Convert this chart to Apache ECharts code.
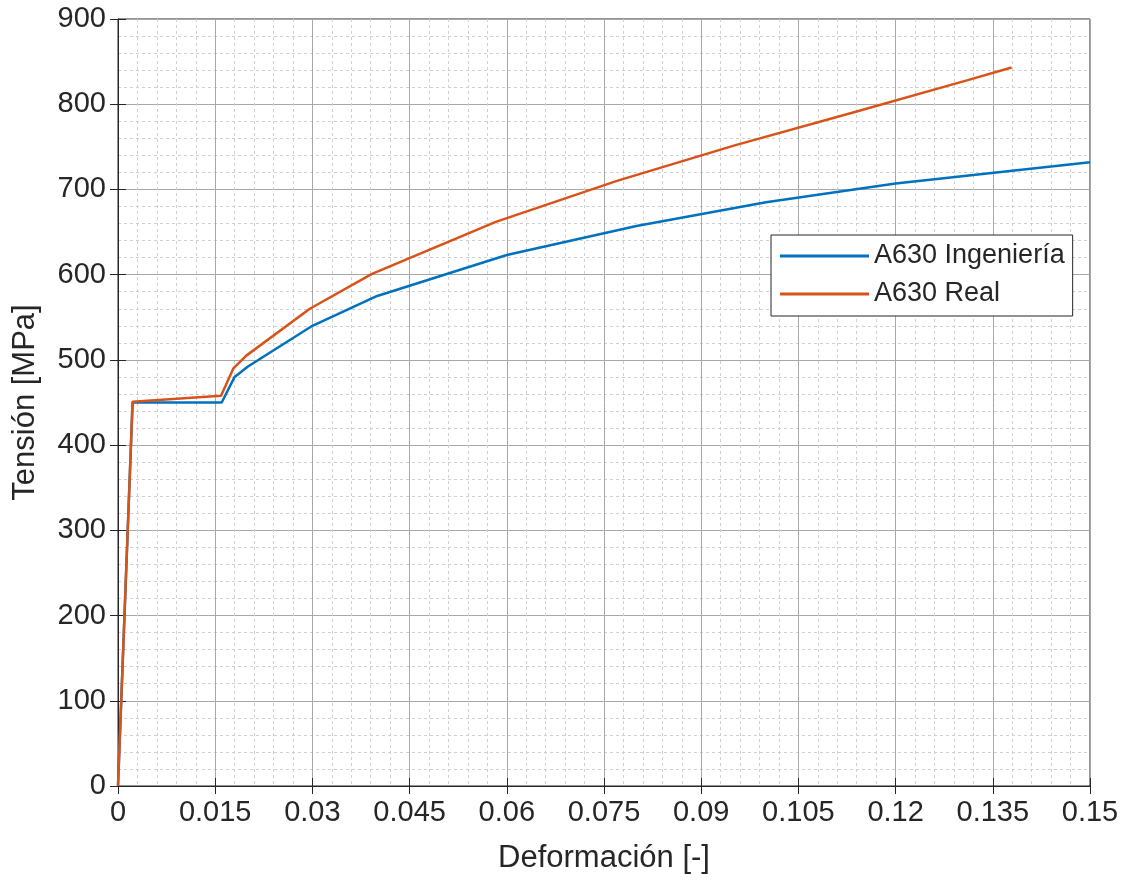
<!DOCTYPE html>
<html>
<head>
<meta charset="utf-8">
<script src="https://cdn.jsdelivr.net/npm/echarts@6/dist/echarts.min.js"></script>
<style>
  html, body { margin: 0; padding: 0; background: #fff; }
  #main { width: 1130px; height: 882px; }
</style>
</head>
<body>
<div id="main"></div>
<script>
// curva de ingeniería
const strainIng = [0, 0.00225, 0.016, 0.018, 0.020, 0.030, 0.040, 0.060, 0.080, 0.100, 0.120, 0.150];
const stressIng = [0, 450, 450, 480, 492, 540, 575, 623, 657, 685, 707, 732];
// curva real
const strainReal = [0, 0.00225, 0.0159, 0.0178, 0.0198, 0.0296, 0.0392, 0.0583, 0.0770, 0.0953, 0.1133, 0.1310, 0.1379];
const stressReal = [0, 451, 458, 490, 505, 560, 601, 662, 710, 752, 790, 828, 843];

const names = ["A630 Ingeniería", "A630 Real"];
const FONT = "'Liberation Sans', Arial, Helvetica, sans-serif";
const DARK = "#262626";

const zip = (xs, ys) => xs.map((x, i) => [x, ys[i]]);

let chart = echarts.init(document.getElementById("main"));

let axisCommon = {
  axisLine: { show: true, onZero: false, lineStyle: { color: DARK, width: 1 } },
  axisTick: { show: true, inside: true, length: 8, lineStyle: { color: DARK } },
  minorTick: { show: true, splitNumber: 5, length: 0 },
  splitLine: { show: true, lineStyle: { color: "#a8a8a8", width: 1 } },
  minorSplitLine: { show: true, lineStyle: { color: "#d0d0d0", width: 1, type: [3, 3] } },
};

let option = {
  animation: false,
  backgroundColor: "#fff",
  grid: { left: 118, right: 40, top: 19, bottom: 96, show: true, borderColor: DARK, borderWidth: 1 },
  legend: {
    orient: "vertical",
    left: 771,
    top: 235,
    data: names,
    icon: "rect",
    itemWidth: 89,
    itemHeight: 3,
    itemGap: 8,
    padding: [6, 8, 7, 9],
    backgroundColor: "#fff",
    borderColor: DARK,
    borderWidth: 1,
    borderRadius: 0,
    textStyle: { fontFamily: FONT, fontSize: 27, color: DARK, lineHeight: 30 },
  },
  xAxis: [
    Object.assign({}, axisCommon, {
      type: "value",
      min: 0,
      max: 0.15,
      interval: 0.015,
      position: "bottom",
      name: "Deformación [-]",
      nameLocation: "middle",
      nameGap: 57,
      nameTextStyle: { fontFamily: FONT, fontSize: 31, color: DARK },
      axisLabel: { fontFamily: FONT, fontSize: 29, color: DARK, margin: 12 },
    }),
    {
      type: "value", min: 0, max: 0.15, interval: 0.015, position: "top",
      axisLine: { show: true, lineStyle: { color: DARK } },
      axisTick: { show: true, inside: true, length: 8, lineStyle: { color: DARK } },
      axisLabel: { show: false }, splitLine: { show: false },
    },
  ],
  yAxis: [
    Object.assign({}, axisCommon, {
      type: "value",
      min: 0,
      max: 900,
      interval: 100,
      position: "left",
      name: "Tensión [MPa]",
      nameLocation: "middle",
      nameGap: 77,
      nameTextStyle: { fontFamily: FONT, fontSize: 31, color: DARK },
      axisLabel: { fontFamily: FONT, fontSize: 29, color: DARK, margin: 12 },
    }),
    {
      type: "value", min: 0, max: 900, interval: 100, position: "right",
      axisLine: { show: true, lineStyle: { color: DARK } },
      axisTick: { show: true, inside: true, length: 8, lineStyle: { color: DARK } },
      axisLabel: { show: false }, splitLine: { show: false },
    },
  ],
  series: [
    {
      name: names[0],
      type: "line",
      data: zip(strainIng, stressIng),
      symbol: "none",
      color: "#0072BD",
      lineStyle: { width: 2.5 },
    },
    {
      name: names[1],
      type: "line",
      data: zip(strainReal, stressReal),
      symbol: "none",
      color: "#D95319",
      lineStyle: { width: 2.5 },
    },
  ],
};
chart.setOption(option);
</script>
</body>
</html>
